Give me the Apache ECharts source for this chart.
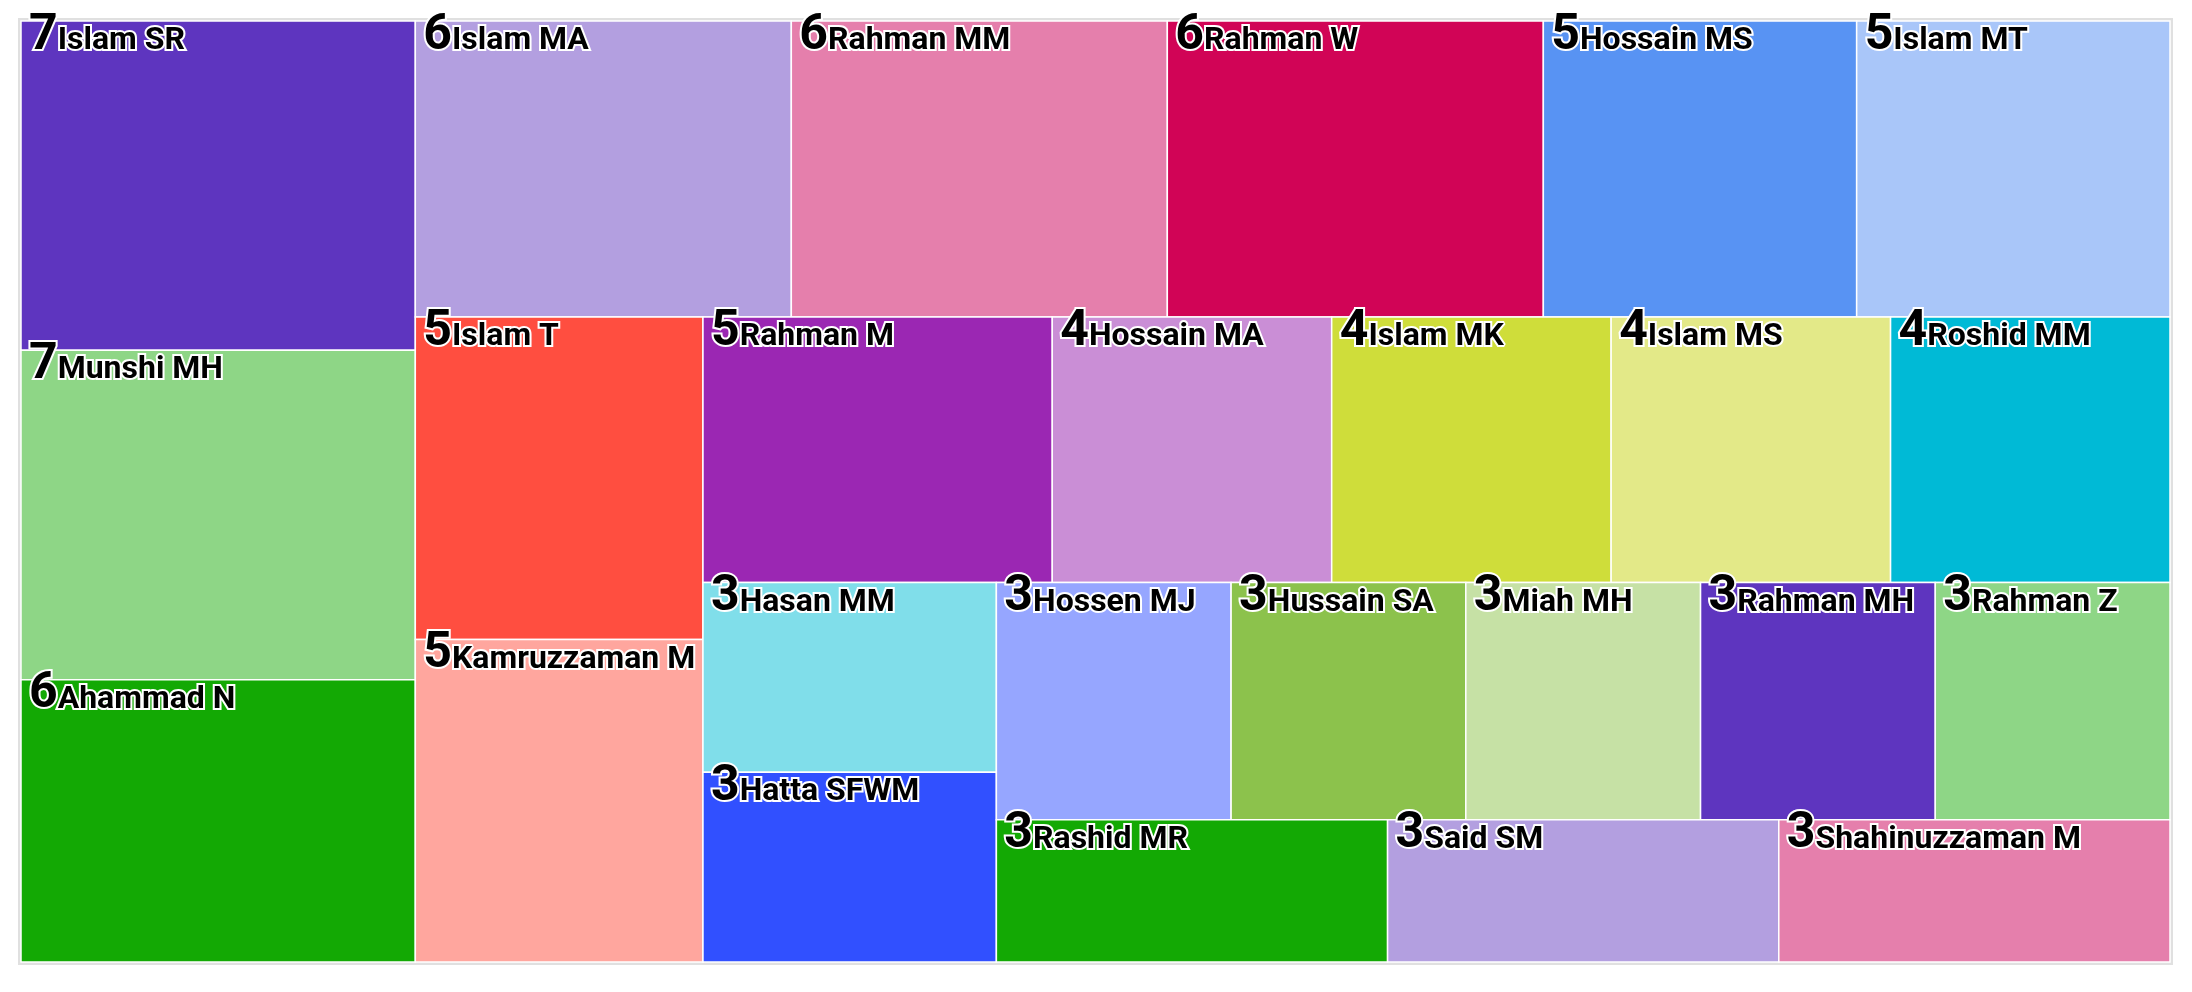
<!DOCTYPE html>
<html>
<head>
<meta charset="utf-8">
<script src="https://cdn.jsdelivr.net/npm/echarts@6/dist/echarts.min.js"></script>
<style>html,body{margin:0;padding:0;background:#fff;}#c{width:2192px;height:992px;}</style>
</head>
<body>
<div id="c"></div>
<script>
const names = ["Islam SR","Munshi MH","Ahammad N","Islam MA","Rahman MM","Rahman W","Hossain MS","Islam MT","Islam T","Kamruzzaman M","Rahman M","Hossain MA","Islam MK","Islam MS","Roshid MM","Hasan MM","Hatta SFWM","Hossen MJ","Hussain SA","Miah MH","Rahman MH","Rahman Z","Rashid MR","Said SM","Shahinuzzaman M"];
const values = [7,7,6,6,6,6,5,5,5,5,5,4,4,4,4,3,3,3,3,3,3,3,3,3,3];
const palette = ["#5E35BF","#8ED686","#13A904","#B39FE0","#E57FAC","#D10456","#5893F3","#A9C6F9","#FF4E40","#FFA69E","#9B27B3","#CA8ED6","#CFDD3A","#E3E988","#00BAD6","#80DEEA","#3150FF","#96A6FF","#8CC24C","#C6E1A5"];

// plot area of the treemap
const AREA = { x: 21, y: 21, w: 2149, h: 941 };

// squarified treemap with alternating strip direction (column, row, column, ...)
function alternatingSquarify(vals, box) {
  const n = vals.length;
  const total = vals.reduce((a, b) => a + b, 0);
  const k = box.w * box.h / total;
  const areas = vals.map(v => v * k);
  let x = box.x, y = box.y, w = box.w, h = box.h;
  let dir = 0; // 0: strip at left with items stacked vertically; 1: strip on top with items side by side
  const rects = [];
  function worst(from, to, L) {
    let s = 0;
    for (let t = from; t < to; t++) s += areas[t];
    const th = s / L;
    let wr = 0;
    for (let t = from; t < to; t++) {
      const len = areas[t] / th;
      wr = Math.max(wr, len / th, th / len);
    }
    return wr;
  }
  let i = 0;
  while (i < n) {
    const L = dir === 0 ? h : w;
    let j = i + 1;
    let best = worst(i, j, L);
    while (j < n) {
      const wr = worst(i, j + 1, L);
      if (wr <= best) { best = wr; j++; } else break;
    }
    let s = 0;
    for (let t = i; t < j; t++) s += areas[t];
    const th = s / L;
    if (dir === 0) {
      let yy = y;
      for (let t = i; t < j; t++) { const hh = areas[t] / th; rects[t] = { x: x, y: yy, w: th, h: hh }; yy += hh; }
      x += th; w -= th;
    } else {
      let xx = x;
      for (let t = i; t < j; t++) { const ww = areas[t] / th; rects[t] = { x: xx, y: y, w: ww, h: th }; xx += ww; }
      y += th; h -= th;
    }
    i = j;
    dir = 1 - dir;
  }
  return rects;
}

const rects = alternatingSquarify(values, AREA);

const data = names.map((n, i) => ({ name: n, value: values[i] }));

const chart = echarts.init(document.getElementById('c'));
chart.setOption({
  animation: false,
  graphic: [{
    type: 'rect', silent: true, z: -1,
    shape: { x: AREA.x - 1.5, y: AREA.y - 1.5, width: AREA.w + 3, height: AREA.h + 3 },
    style: { fill: '#fff', stroke: '#e0e0e0', lineWidth: 3 }
  }],
  series: [{
    type: 'custom',
    coordinateSystem: 'none',
    data: data,
    renderItem: function (params, api) {
      const i = params.dataIndex;
      const r = rects[i];
      return {
        type: 'group',
        children: [
          {
            type: 'rect', z2: 0,
            shape: { x: r.x, y: r.y, width: r.w, height: r.h },
            style: { fill: palette[i % palette.length], stroke: '#ffffff', lineWidth: 1.5 }
          },
          {
            type: 'text', z2: 10,
            x: r.x + 8, y: r.y - 10,
            style: {
              text: '{v|' + values[i] + '}{n|' + names[i] + '}',
              align: 'left', verticalAlign: 'top',
              rich: {
                v: { fontFamily: 'Roboto', fontWeight: 'bold', fontSize: 50, lineHeight: 50, fill: '#000', stroke: '#fff', lineWidth: 4, verticalAlign: 'bottom' },
                n: { fontFamily: 'Roboto', fontWeight: 'bold', fontSize: 32, lineHeight: 50, padding: [0, 0, 4, 0], fill: '#000', stroke: '#fff', lineWidth: 4, verticalAlign: 'bottom' }
              }
            }
          }
        ]
      };
    }
  }]
});
</script>
</body>
</html>
